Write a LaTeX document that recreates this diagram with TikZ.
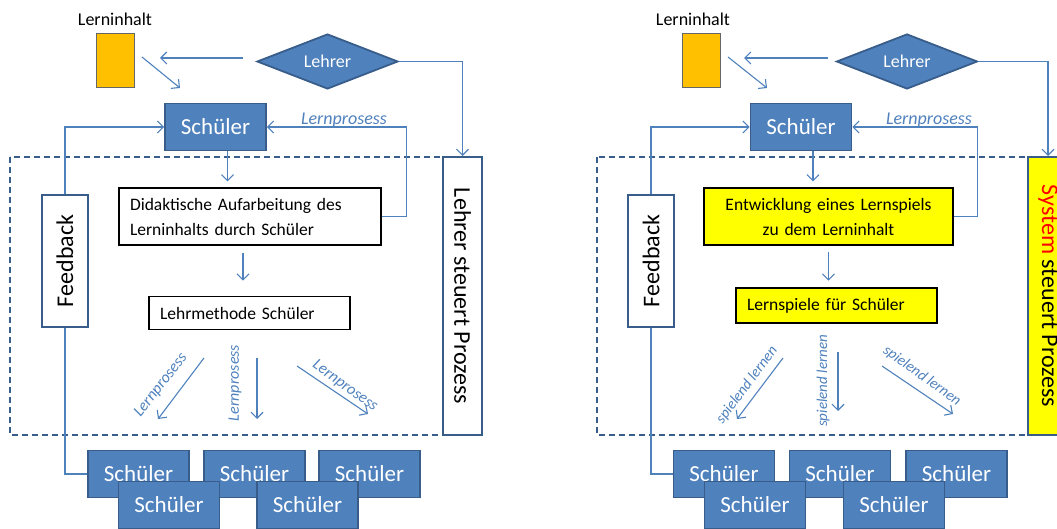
\documentclass[tikz,border=0pt]{standalone}
\usepackage{fontspec}
\setmainfont{Carlito}
\usepackage{xcolor}
\definecolor{boxblue}{HTML}{4F81BD}
\definecolor{boxedge}{HTML}{385D8A}
\definecolor{lineblue}{HTML}{4F81BD}
\definecolor{inhaltgelb}{HTML}{FFC000}
\definecolor{spielgelb}{HTML}{FFFF00}
\usepackage{tikz}
\usetikzlibrary{shapes.geometric,arrows.meta,positioning,calc}

\tikzset{
  conn/.style={draw=lineblue, line width=1.1pt, -{Straight Barb[length=6pt,width=12pt]}},
  link/.style={draw=lineblue, line width=1.1pt},
  dashframe/.style={draw=boxedge, line width=2.2pt, dash pattern=on 6pt off 4pt},
  bluebox/.style={rectangle, fill=boxblue, draw=boxedge, line width=1.8pt, text=white,
    font=\fontsize{23}{26}\selectfont, minimum width=101pt, minimum height=47pt, inner sep=0pt},
  lehrerbox/.style={diamond, aspect=2.5, fill=boxblue, draw=boxedge, line width=1.8pt, text=white,
    font=\fontsize{18}{20}\selectfont, minimum width=141pt, minimum height=55pt, inner sep=0pt},
  inhaltbox/.style={rectangle, fill=inhaltgelb, draw=black!60, line width=1pt,
    minimum width=38pt, minimum height=54pt, inner sep=0pt},
  plainbox/.style={rectangle, draw=black, line width=1.3pt, fill=white, align=left,
    inner xsep=11pt, inner ysep=0pt, font=\fontsize{17.5}{25}\selectfont},
  sidebox/.style={rectangle, draw=boxedge, line width=2pt, fill=white, inner sep=0pt,
    font=\fontsize{24}{28}\selectfont},
  flowlbl/.style={text=lineblue, inner sep=0pt, font=\itshape\fontsize{16}{18}\selectfont},
  titel/.style={font=\fontsize{18}{20}\selectfont, inner sep=0pt}
}

\begin{document}
\begin{tikzpicture}[x=1pt,y=-1pt]
\useasboundingbox (0,0) rectangle (1057,529);
\clip (0,0) rectangle (1057,529);

% Left panel
\draw[dashframe] (10,157) rectangle (482,435);
\node[titel] (titelL) at (115,19) {Lerninhalt};
\node[inhaltbox] (inhaltL) at (115,61) {};
\node[lehrerbox] (lehrerL) at (327.5,61.5) {Lehrer};
\node[bluebox] (schuelerL) at (215.5,127) {Schüler};
\node[sidebox, rotate=90, minimum width=132pt, minimum height=46pt] (fbL) at (65,261) {Feedback};
\node[sidebox, rotate=-90, minimum width=278pt, minimum height=39pt] (steuL) at (462.5,296) {Lehrer steuert Prozess};
\node[plainbox, text width=240pt, minimum height=57pt] (didL) at (250,216.5) {Didaktische Aufarbeitung des\\Lerninhalts durch Schüler};
\node[plainbox, text width=179pt, minimum height=33pt] (lmL) at (249.5,313) {Lehrmethode Schüler};
\node[flowlbl, font=\itshape\fontsize{18}{20}\selectfont] (lpL) at (344,120) {Lernprosess};

\coordinate (a1L) at (142,57);  \coordinate (b1L) at (180,88);
\coordinate (a2L) at (243,58);  \coordinate (b2L) at (160,58);
\coordinate (a3L) at (204,358); \coordinate (b3L) at (158,419);
\coordinate (a4L) at (257,358); \coordinate (b4L) at (257,419);
\coordinate (a5L) at (297,366); \coordinate (b5L) at (368,414);

\draw[conn] (a1L) -- (b1L);
\draw[conn] (a2L) -- (b2L);
\draw[conn] (lehrerL.east) -| (steuL.west);
\draw[conn] (fbL.east) |- (schuelerL.west);
\draw[conn] (didL.east) -- ++(25,0) |- (schuelerL.east);
\draw[conn] ([xshift=12pt]schuelerL.south) -- ++(0,30);
\draw[conn, shorten <=7pt] ([xshift=-7pt]didL.south) -- ++(0,35);
\draw[conn] (a3L) -- (b3L);
\draw[conn] (a4L) -- (b4L);
\draw[conn] (a5L) -- (b5L);
\node[flowlbl, rotate=52] (l3L) at (161,385) {Lernprosess};
\node[flowlbl, rotate=90] (l4L) at (235,383) {Lernprosess};
\node[flowlbl, rotate=-36] (l5L) at (345,386) {Lernprosess};

% Schueler unten links
\node[bluebox] (s1L) at (138.5,474) {Schüler};
\node[bluebox] (s2L) at (254.5,474) {Schüler};
\node[bluebox] (s3L) at (369.5,474) {Schüler};
\node[bluebox] (s4L) at (169,505) {Schüler};
\node[bluebox] (s5L) at (307.5,505) {Schüler};
\draw[link] (fbL.west) |- (s1L.west);

% Right panel
\draw[dashframe] (597,157) rectangle (1028,435);
\node[titel] (titelR) at (693,19) {Lerninhalt};
\node[inhaltbox] (inhaltR) at (701.5,61) {};
\node[lehrerbox] (lehrerR) at (907,61.5) {Lehrer};
\node[bluebox] (schuelerR) at (801,127) {Schüler};
\node[sidebox, rotate=90, minimum width=132pt, minimum height=46pt] (fbR) at (651,261) {Feedback};
\node[sidebox, fill=spielgelb, rotate=-90, minimum width=278pt, minimum height=40pt] (steuR) at (1048,296) {{\color{red}System} steuert Prozess};
\node[plainbox, fill=spielgelb, align=center, text width=227pt, minimum height=57pt] (entR) at (828.5,216.5) {Entwicklung eines Lernspiels\\zu dem Lerninhalt};
\node[plainbox, fill=spielgelb, text width=179pt, minimum height=35pt] (lsR) at (836.5,305.5) {Lernspiele für Schüler};
\node[flowlbl, font=\itshape\fontsize{18}{20}\selectfont] (lpR) at (929,120) {Lernprosess};

\coordinate (a1R) at (728,57);  \coordinate (b1R) at (767,88);
\coordinate (a2R) at (828,58);  \coordinate (b2R) at (744,58);
\coordinate (a3R) at (783,358); \coordinate (b3R) at (737,419);
\coordinate (a4R) at (838,352); \coordinate (b4R) at (838,411);
\coordinate (a5R) at (882,366); \coordinate (b5R) at (953,414);

\draw[conn] (a1R) -- (b1R);
\draw[conn] (a2R) -- (b2R);
\draw[conn] (lehrerR.east) -| (steuR.west);
\draw[conn] (fbR.east) |- (schuelerR.west);
\draw[conn] (entR.east) -- ++(24,0) |- (schuelerR.east);
\draw[conn] ([xshift=12pt]schuelerR.south) -- ++(0,30);
\draw[conn, shorten <=6pt] (entR.south) -- ++(0,35);
\draw[conn] (a3R) -- (b3R);
\draw[conn] (a4R) -- (b4R);
\draw[conn] (a5R) -- (b5R);
\node[flowlbl, font=\itshape\fontsize{15}{17}\selectfont, rotate=53] (l3R) at (747,385) {spielend lernen};
\node[flowlbl, font=\itshape\fontsize{15}{17}\selectfont, rotate=90] (l4R) at (823,381) {spielend lernen};
\node[flowlbl, font=\itshape\fontsize{15}{17}\selectfont, rotate=-36] (l5R) at (922,376) {spielend lernen};

% Schueler unten rechts
\node[bluebox] (s1R) at (724,474) {Schüler};
\node[bluebox] (s2R) at (840,474) {Schüler};
\node[bluebox] (s3R) at (956.5,474) {Schüler};
\node[bluebox] (s4R) at (755,505) {Schüler};
\node[bluebox] (s5R) at (894,505) {Schüler};
\draw[link] (fbR.west) |- (s1R.west);
\end{tikzpicture}
\end{document}
